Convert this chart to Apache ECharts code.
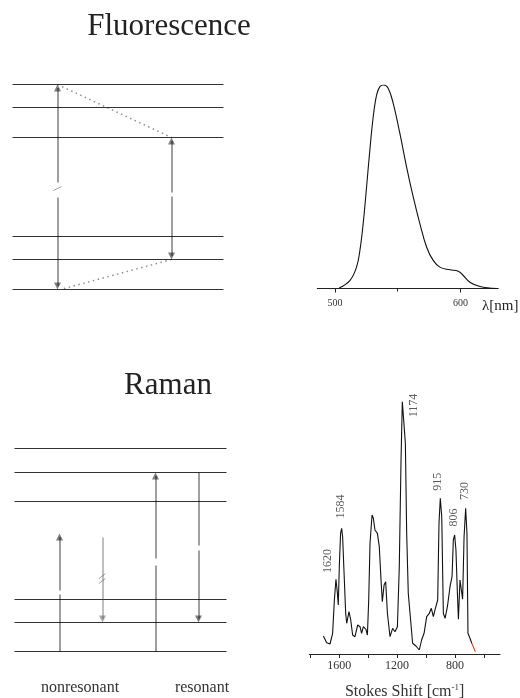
<!DOCTYPE html>
<html>
<head>
<meta charset="utf-8">
<script src="https://cdn.jsdelivr.net/npm/echarts@6/dist/echarts.min.js"></script>
<style>
  html, body { margin: 0; padding: 0; background: #fff; }
  #chart { width: 520px; height: 698px; }
</style>
</head>
<body>
<div id="chart"></div>
<script>
  var SERIF = "'Liberation Serif', 'Times New Roman', serif";

  // ---- Jablonski-type schemes (schematic units, ground level = 0) ----
  var fluorLevels = [0, 30, 53, 152, 182, 205];
  var ramanLevels = [0, 29, 52, 150, 179, 203];

  // arrows: [x, from, to]  (head drawn at "to")
  var fluorArrows = [[45, 92, 0], [45, 107, 205], [159, 93, 30], [159, 97, 152]];
  var fluorRelax = [[45, 205, 159, 152], [159, 30, 48, 0]];
  var fluorBreak = [[41, 99, 49, 103]];

  var ramanArrows = [[45, 61, 118], [141, 93, 179], [184, 101, 29]];
  var ramanArrowTails = [[45, 0, 57], [141, 0, 86], [184, 179, 106]];
  var ramanStokesArrow = [[88, 114, 29]];
  var ramanBreak = [[84.5, 68, 91, 73], [84.5, 73, 91, 78]];

  // ---- fluorescence spectrum ----
  var fluorTicks = [500, 550, 600];
  var fluorTickLabels = [500, 600];
  var fluorWl = [503.4, 511.9, 517.2, 519.9, 522.5, 525.2, 527.8, 530.5, 533.2, 535.8, 539, 542.4, 546.4,
    551.7, 557, 562.3, 567.6, 573, 578.2, 583.5, 591.5, 598.1, 602.1, 607.4, 615.4, 628.6];
  var fluorInt = [0.003, 0.039, 0.105, 0.187, 0.319, 0.499, 0.68, 0.844, 0.951, 0.992, 1.0, 0.984, 0.91,
    0.762, 0.598, 0.45, 0.319, 0.203, 0.138, 0.105, 0.092, 0.085, 0.064, 0.031, 0.01, 0];

  // ---- Raman spectrum ----
  var ramanTicks = [1800, 1600, 1400, 1200, 1000, 800, 600];
  var ramanTickLabels = [1600, 1200, 800];
  var ramanShift = [1709, 1686, 1663, 1645, 1633, 1622, 1612, 1606, 1599, 1590, 1583, 1576, 1566, 1555, 1548,
    1532, 1520, 1507, 1491, 1472, 1456, 1445, 1433, 1415, 1405, 1396, 1387, 1373, 1364, 1353, 1336, 1323,
    1311, 1302, 1290, 1279, 1267, 1249, 1231, 1215, 1198, 1185, 1173, 1164, 1152, 1143, 1134, 1123, 1111,
    1093, 1070, 1047, 1031, 1014, 996, 978, 964, 950, 936, 920, 911, 902, 892, 881, 869, 853, 835, 821,
    812, 803, 794, 784, 777, 766, 757, 748, 738, 727, 718, 711, 697, 685];
  var ramanInt = [18, 11.3, 10, 20.7, 54, 74.7, 60.7, 49, 87.3, 120.7, 125.7, 117.3, 80.7, 40.7, 30.7,
    42.3, 34, 19, 17.3, 29, 27.3, 20.7, 27.3, 24.7, 19, 54, 110.7, 139, 135.7, 124, 120.7, 107.3,
    74, 52.3, 69, 72.3, 40.7, 17.3, 25.7, 22.3, 27.3, 87.3, 194, 252.3, 253.3, 210.7, 120.7, 60.7, 40.7,
    10.7, 8, 4, 14, 20.7, 37.3, 40.7, 45.7, 37.3, 45.7, 54, 130.7, 155.7, 137.3, 40.7, 35.7, 47.3, 67.3, 77.3,
    114, 119, 104, 60.7, 34.7, 74, 74.7, 54.7, 117.3, 145.7, 120.7, 20.7, 15.7, 10.7];
  var ramanTailShift = [685, 678, 660];
  var ramanTailInt = [10.7, 10.7, 2.3];

  var ramanPeakLabels = ['1620', '1584', '1174', '915', '806', '730'];
  var ramanPeakLabelShift = [1675, 1589, 1083, 916, 807, 731];
  var ramanPeakLabelInt = [93, 147.5, 248.5, 172.3, 136.5, 163];

  // helpers
  function levelData(levels, width) {
    return levels.map(function (y) { return { coords: [[0, y], [width, y]] }; });
  }
  function segData(list) {
    return list.map(function (s) { return { coords: [[s[0], s[1]], [s[2], s[3]]] }; });
  }
  function vertData(list, head) {
    return list.map(function (a) {
      var dir = a[2] > a[1] ? 1 : -1;
      var end = head ? a[2] - dir * 3.5 : a[2];
      return { coords: [[a[0], a[1]], [a[0], end]] };
    });
  }
  function lines(grid, data, opt) {
    var s = {
      type: 'lines',
      coordinateSystem: 'cartesian2d',
      xAxisIndex: grid.x,
      yAxisIndex: grid.y,
      silent: true,
      symbol: 'none',
      lineStyle: { color: '#333', width: 1.1, opacity: 1, curveness: 0 },
      data: data
    };
    for (var k in opt) s[k] = opt[k];
    return s;
  }
  function hiddenAxis(gridIndex, min, max) {
    return { type: 'value', gridIndex: gridIndex, min: min, max: max, show: false };
  }
  function plain(v) { return String(v); }

  var G_FL = { x: 0, y: 0 };
  var G_RA = { x: 3, y: 2 };
  var ARROW_LINE = { color: '#000', width: 1.5, curveness: 0 };

  var myChart = echarts.init(document.getElementById('chart'));
  myChart.setOption({
    animation: false,
    backgroundColor: '#fff',
    textStyle: { fontFamily: SERIF },
    grid: [
      { left: 12.5, top: 84.5, width: 211, height: 205, outerBoundsMode: 'none' },
      { left: 317.3, top: 85, width: 181, height: 206.5, outerBoundsMode: 'none' },
      { left: 14.5, top: 448.5, width: 212, height: 203, outerBoundsMode: 'none' },
      { left: 309.3, top: 394, width: 190.7, height: 260, outerBoundsMode: 'none' }
    ],
    xAxis: [
      hiddenAxis(0, 0, 211),
      {
        type: 'value', gridIndex: 1, min: 486, max: 630, position: 'bottom',
        axisLine: { lineStyle: { color: '#222', width: 1 } },
        axisTick: { customValues: [fluorTicks[0], fluorTicks[2]], length: 4, lineStyle: { color: '#222' } },
        axisLabel: { customValues: fluorTickLabels, fontSize: 10, color: '#333', margin: 7, fontFamily: SERIF, formatter: plain },
        splitLine: { show: false }
      },
      {
        type: 'value', gridIndex: 1, min: 486, max: 630, position: 'bottom', offset: 0,
        axisLine: { show: false },
        axisTick: { customValues: [fluorTicks[1]], inside: true, length: 3, lineStyle: { color: '#222' } },
        axisLabel: { show: false },
        splitLine: { show: false }
      },
      hiddenAxis(2, 0, 212),
      {
        type: 'value', gridIndex: 3, min: 490, max: 1806, inverse: true, position: 'bottom',
        axisLine: { lineStyle: { color: '#222', width: 1 } },
        axisTick: { customValues: ramanTicks, length: 4, lineStyle: { color: '#222' } },
        axisLabel: { customValues: ramanTickLabels, fontSize: 12, color: '#333', margin: 6, fontFamily: SERIF, formatter: plain },
        splitLine: { show: false },
        name: '{a|Stokes Shift [cm}{s|-1}{a|]}',
        nameLocation: 'middle',
        nameGap: 29,
        nameTextStyle: {
          rich: {
            a: { fontSize: 16, fontFamily: SERIF, color: '#333', lineHeight: 18 },
            s: { fontSize: 9, fontFamily: SERIF, color: '#333', verticalAlign: 'top', lineHeight: 18 }
          }
        }
      }
    ],
    yAxis: [
      hiddenAxis(0, 0, 205),
      hiddenAxis(1, -0.0147, 1),
      hiddenAxis(2, 0, 203),
      hiddenAxis(3, 0, 260)
    ],
    graphic: [
      { type: 'text', x: 169, y: 27, style: { text: 'Fluorescence', fontSize: 31, fontFamily: SERIF, fill: '#222', align: 'center', verticalAlign: 'middle' } },
      { type: 'text', x: 168, y: 386, style: { text: 'Raman', fontSize: 31, fontFamily: SERIF, fill: '#222', align: 'center', verticalAlign: 'middle' } },
      { type: 'text', x: 482, y: 306, style: { text: 'λ[nm]', fontSize: 15, fontFamily: SERIF, fill: '#222', align: 'left', verticalAlign: 'middle' } },
      { type: 'text', x: 80, y: 688, style: { text: 'nonresonant', fontSize: 16, fontFamily: SERIF, fill: '#333', align: 'center', verticalAlign: 'middle' } },
      { type: 'text', x: 202, y: 688, style: { text: 'resonant', fontSize: 16, fontFamily: SERIF, fill: '#333', align: 'center', verticalAlign: 'middle' } }
    ],
    series: [
      // fluorescence scheme
      lines(G_FL, levelData(fluorLevels, 211), {}),
      lines(G_FL, vertData(fluorArrows, true), { symbol: ['none', 'triangle'], symbolSize: [5, 7], lineStyle: ARROW_LINE }),
      lines(G_FL, segData(fluorRelax), { lineStyle: { color: '#222', width: 1.5, type: [1.5, 3.5], curveness: 0 } }),
      lines(G_FL, segData(fluorBreak), { lineStyle: { color: '#444', width: 1, curveness: 0 } }),
      // raman scheme
      lines(G_RA, levelData(ramanLevels, 212), {}),
      lines(G_RA, vertData(ramanArrows, true), { symbol: ['none', 'triangle'], symbolSize: [5, 7], lineStyle: ARROW_LINE }),
      lines(G_RA, vertData(ramanArrowTails, false), { lineStyle: ARROW_LINE }),
      lines(G_RA, vertData(ramanStokesArrow, true), {
        symbol: ['none', 'triangle'], symbolSize: [5, 7],
        lineStyle: { color: '#555', width: 1.5, curveness: 0 }
      }),
      lines(G_RA, segData(ramanBreak), { lineStyle: { color: '#444', width: 1, curveness: 0 } }),
      // fluorescence spectrum
      {
        type: 'line', xAxisIndex: 1, yAxisIndex: 1, smooth: 0.4, symbol: 'none', silent: true,
        lineStyle: { color: '#111', width: 1.1 },
        data: fluorWl.map(function (w, i) { return [w, fluorInt[i]]; })
      },
      // raman spectrum
      {
        type: 'line', xAxisIndex: 4, yAxisIndex: 3, symbol: 'none', silent: true,
        lineStyle: { color: '#111', width: 1.1 },
        data: ramanShift.map(function (w, i) { return [w, ramanInt[i]]; })
      },
      {
        type: 'line', xAxisIndex: 4, yAxisIndex: 3, symbol: 'none', silent: true,
        lineStyle: { color: '#e8401c', width: 1.1 },
        data: ramanTailShift.map(function (w, i) { return [w, ramanTailInt[i]]; })
      },
      {
        type: 'scatter', xAxisIndex: 4, yAxisIndex: 3, symbolSize: 0, silent: true,
        label: {
          show: true, position: 'inside', rotate: 90, fontSize: 12, fontFamily: SERIF, color: '#333',
          formatter: function (p) { return p.value[2]; }
        },
        data: ramanPeakLabelShift.map(function (w, i) { return [w, ramanPeakLabelInt[i], ramanPeakLabels[i]]; })
      }
    ]
  });
</script>
</body>
</html>
